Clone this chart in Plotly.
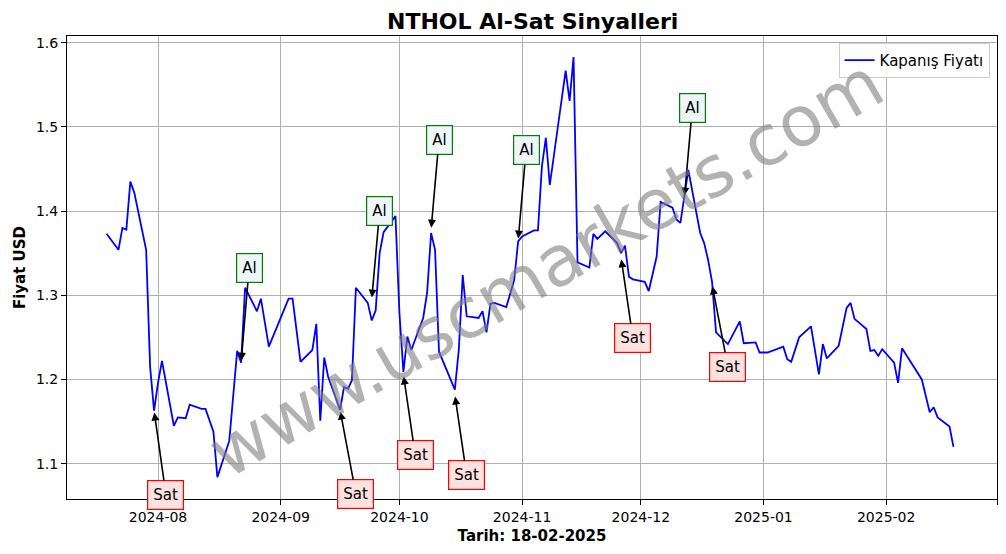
import plotly.graph_objects as go

# closing prices
dates = [
    "2024-07-19", "2024-07-22", "2024-07-23", "2024-07-24", "2024-07-25", "2024-07-26",
    "2024-07-29", "2024-07-30", "2024-07-31", "2024-08-01", "2024-08-02", "2024-08-05",
    "2024-08-06", "2024-08-08", "2024-08-09", "2024-08-12", "2024-08-13", "2024-08-15",
    "2024-08-16", "2024-08-19", "2024-08-21", "2024-08-22", "2024-08-23", "2024-08-26",
    "2024-08-27", "2024-08-29", "2024-09-03", "2024-09-04", "2024-09-06", "2024-09-09",
    "2024-09-10", "2024-09-11", "2024-09-12", "2024-09-13", "2024-09-16", "2024-09-17",
    "2024-09-18", "2024-09-19", "2024-09-20", "2024-09-23", "2024-09-24", "2024-09-25",
    "2024-09-26", "2024-09-27", "2024-09-30", "2024-10-01", "2024-10-02", "2024-10-03",
    "2024-10-04", "2024-10-07", "2024-10-08", "2024-10-09", "2024-10-10", "2024-10-11",
    "2024-10-15", "2024-10-16", "2024-10-17", "2024-10-18", "2024-10-21", "2024-10-22",
    "2024-10-23", "2024-10-24", "2024-10-25", "2024-10-28", "2024-10-30", "2024-10-31",
    "2024-11-01", "2024-11-04", "2024-11-05", "2024-11-06", "2024-11-07", "2024-11-08",
    "2024-11-12", "2024-11-13", "2024-11-14", "2024-11-15", "2024-11-18", "2024-11-19",
    "2024-11-20", "2024-11-22", "2024-11-25", "2024-11-26", "2024-11-27", "2024-11-28",
    "2024-11-29", "2024-12-02", "2024-12-03", "2024-12-05", "2024-12-06", "2024-12-09",
    "2024-12-10", "2024-12-11", "2024-12-13", "2024-12-16", "2024-12-17", "2024-12-18",
    "2024-12-19", "2024-12-20", "2024-12-23", "2024-12-26", "2024-12-27", "2024-12-30",
    "2024-12-31", "2025-01-02", "2025-01-06", "2025-01-07", "2025-01-08", "2025-01-10",
    "2025-01-13", "2025-01-15", "2025-01-16", "2025-01-17", "2025-01-20", "2025-01-22",
    "2025-01-23", "2025-01-24", "2025-01-27", "2025-01-28", "2025-01-29", "2025-01-30",
    "2025-01-31", "2025-02-03", "2025-02-04", "2025-02-05", "2025-02-10", "2025-02-11",
    "2025-02-12", "2025-02-13", "2025-02-14", "2025-02-17", "2025-02-18",
]
prices = [
    1.373, 1.354, 1.380, 1.378, 1.435, 1.422,
    1.354, 1.215, 1.163, 1.196, 1.222, 1.145,
    1.155, 1.154, 1.170, 1.165, 1.165, 1.138,
    1.084, 1.127, 1.234, 1.220, 1.309, 1.281,
    1.296, 1.239, 1.296, 1.296, 1.221, 1.235,
    1.266, 1.151, 1.226, 1.203, 1.164, 1.191,
    1.189, 1.199, 1.309, 1.291, 1.270, 1.282,
    1.350, 1.375, 1.394, 1.279, 1.209, 1.251,
    1.235, 1.273, 1.303, 1.374, 1.354, 1.233,
    1.188, 1.235, 1.324, 1.275, 1.273, 1.281,
    1.256, 1.290, 1.291, 1.286, 1.318, 1.364,
    1.370, 1.377, 1.377, 1.453, 1.487, 1.431,
    1.567, 1.531, 1.583, 1.339, 1.333, 1.373,
    1.367, 1.376, 1.362, 1.350, 1.359, 1.322,
    1.319, 1.316, 1.305, 1.346, 1.411, 1.404,
    1.390, 1.386, 1.449, 1.374, 1.362, 1.342,
    1.316, 1.256, 1.242, 1.269, 1.243, 1.244,
    1.232, 1.232, 1.239, 1.224, 1.221, 1.250,
    1.263, 1.206, 1.242, 1.225, 1.240, 1.285,
    1.291, 1.272, 1.260, 1.234, 1.235, 1.228,
    1.236, 1.220, 1.196, 1.237, 1.200, 1.182,
    1.161, 1.167, 1.155, 1.144, 1.120,
]

# signals: (type, point date, point price, label date, label price)
sig_type = ["Sat", "Al", "Sat", "Al", "Sat", "Al", "Sat", "Al", "Sat", "Al", "Sat"]
sig_date = ["2024-07-31", "2024-08-22", "2024-09-16", "2024-09-24", "2024-10-02",
            "2024-10-09", "2024-10-15", "2024-10-31", "2024-11-26", "2024-12-12", "2024-12-19"]
sig_price = [1.163, 1.220, 1.164, 1.295, 1.206, 1.378, 1.182, 1.365, 1.345, 1.416, 1.313]
lbl_date = ["2024-08-03", "2024-08-24", "2024-09-20", "2024-09-26", "2024-10-05",
            "2024-10-11", "2024-10-18", "2024-11-02", "2024-11-29", "2024-12-14", "2024-12-23"]
lbl_price = [1.063, 1.332, 1.064, 1.400, 1.110, 1.485, 1.086, 1.472, 1.249, 1.522, 1.215]

font = "DejaVu Sans"

fig = go.Figure()
fig.add_trace(go.Scatter(x=dates, y=prices, mode="lines", name="Kapanış Fiyatı",
                         line=dict(color="blue", width=1.8)))

for t, d, p, ld, lp in zip(sig_type, sig_date, sig_price, lbl_date, lbl_price):
    buy = t == "Al"
    fig.add_annotation(
        x=d, y=p, ax=ld, ay=lp, axref="x", ayref="y", xref="x", yref="y",
        text=t, showarrow=True, arrowhead=2, arrowsize=1, arrowwidth=1.6,
        arrowcolor="black", standoff=2,
        font=dict(family=font, size=15, color="black"),
        bgcolor="#eef6fb" if buy else "#fde2e0",
        bordercolor="green" if buy else "red", borderwidth=1.2, borderpad=5,
    )

fig.add_annotation(
    text="www.uscmarkets.com", x=0.515, y=0.5, xref="paper", yref="paper",
    showarrow=False, textangle=-30, opacity=0.6,
    font=dict(family=font, size=70, color="gray"),
)

# page body adds an 8px offset, so the figure is drawn smaller to line up
fig.update_layout(
    width=990, height=538,
    margin=dict(l=59, r=1, t=28, b=47, autoexpand=False),
    paper_bgcolor="white", plot_bgcolor="white",
    font=dict(family=font, size=14, color="black"),
    title=dict(text="<b>NTHOL Al-Sat Sinyalleri</b>", x=0.53, xanchor="center",
               y=0.976, yanchor="middle", font=dict(size=22)),
    showlegend=True,
    legend=dict(x=0.992, y=0.985, xanchor="right", yanchor="top",
                bgcolor="rgba(255,255,255,0.8)", bordercolor="#cccccc", borderwidth=1,
                font=dict(size=15)),
)
fig.update_xaxes(
    range=["2024-07-09", "2025-03-01"], dtick="M1", tick0="2024-08-01", tickformat="%Y-%m",
    showgrid=True, gridcolor="#b0b0b0", showline=True, linecolor="black", mirror=True,
    ticks="outside", ticklen=5, tickcolor="black", tickfont=dict(size=14), automargin=False,
    title=dict(text="<b>Tarih: 18-02-2025</b>", standoff=6, font=dict(size=15)),
)
fig.update_yaxes(
    range=[1.058, 1.608], dtick=0.1, tickformat=".1f",
    showgrid=True, gridcolor="#b0b0b0", showline=True, linecolor="black", mirror=True,
    ticks="outside", ticklen=5, tickcolor="black", tickfont=dict(size=14), automargin=False,
    title=dict(text="<b>Fiyat USD</b>", standoff=6, font=dict(size=15)),
)

fig.write_html("out.html")
